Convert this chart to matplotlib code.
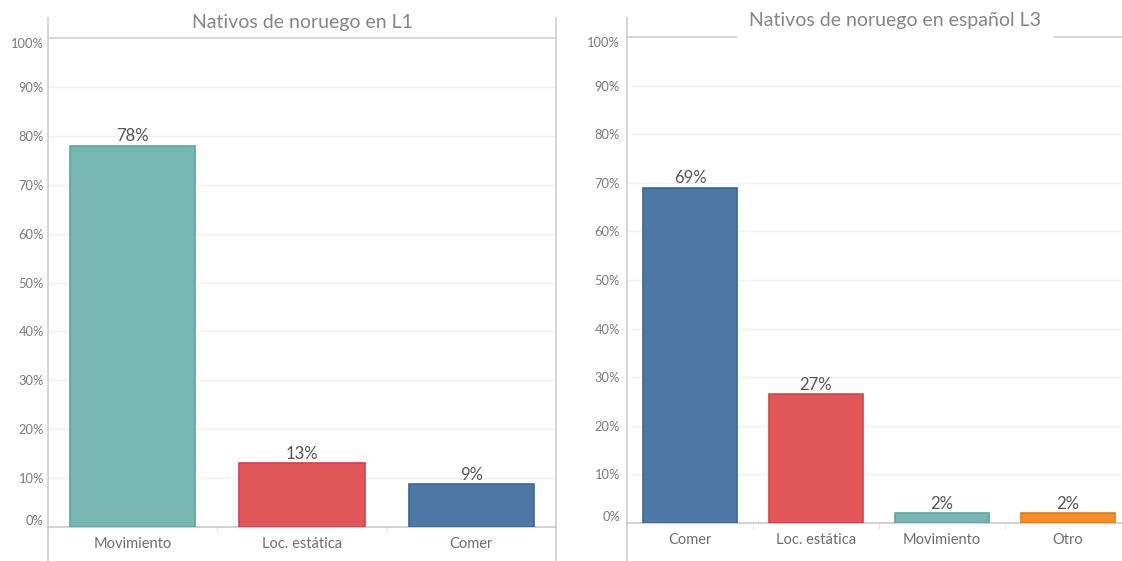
import numpy as np
import matplotlib
matplotlib.use("Agg")
import matplotlib.pyplot as plt
from matplotlib.lines import Line2D

plt.rcParams['font.family'] = ['Lato', 'DejaVu Sans']

# L1 panel
l1_title = "Nativos de noruego en L1"
l1_cats = ["Movimiento", "Loc. estática", "Comer"]
l1_vals = [0.78, 0.13, 0.087]
l1_labels = ["78%", "13%", "9%"]
l1_colors = ["#76B7B2", "#E15759", "#4E79A7"]

# L3 panel
l3_title = "Nativos de noruego en español L3"
l3_cats = ["Comer", "Loc. estática", "Movimiento", "Otro"]
l3_vals = [0.69, 0.265, 0.02, 0.02]
l3_labels = ["69%", "27%", "2%", "2%"]
l3_colors = ["#4E79A7", "#E15759", "#76B7B2", "#F28E2B"]

yticks = np.arange(0, 1.01, 0.1)
ytick_labels = [f"{int(round(t * 100))}%" for t in yticks]

edge = {"#76B7B2": "#5fa39e", "#E15759": "#cf4446", "#4E79A7": "#3b6694",
        "#F28E2B": "#e07a16"}

W, H = 1122, 561
fig = plt.figure(figsize=(W / 100, H / 100), dpi=100)
fig.patch.set_facecolor("white")


def panel(rect, cats, vals, labels, colors, title, ypad, right_border,
          top_y, bottom_y, title_gap):
    ax = fig.add_axes(rect)
    x = np.arange(len(cats))
    ax.bar(x, vals, width=0.74, color=colors,
           edgecolor=[edge[c] for c in colors], linewidth=1.2, zorder=3)
    for xi, v, lab in zip(x, vals, labels):
        ax.annotate(lab, (xi, v), xytext=(0, 1), textcoords="offset points",
                    ha="center", va="bottom", fontsize=12, color="#555555")
    ax.set_xlim(-0.5, len(cats) - 0.5)
    ax.set_ylim(0, 1)
    ax.set_yticks(yticks)
    ax.set_yticklabels(ytick_labels)
    ax.set_xticks(x)
    ax.set_xticklabels(cats)
    ax.set_xticks(np.arange(len(cats) + 1) - 0.5, minor=True)
    ax.tick_params(axis="x", which="major", length=0, pad=7, labelsize=10.5,
                   labelcolor="#6e6e6e")
    ax.tick_params(axis="x", which="minor", length=4, width=0.8,
                   color="#e6e6e6")
    ax.tick_params(axis="y", length=0, pad=ypad, labelsize=9.3,
                   labelcolor="#7a7a7a")
    tl = ax.get_yticklabels()
    tl[0].set_verticalalignment("bottom")
    tl[-1].set_verticalalignment("top")
    for s in ax.spines.values():
        s.set_visible(False)
    ax.spines["bottom"].set_visible(True)
    ax.spines["bottom"].set_color("#c8c8c8")
    ax.spines["bottom"].set_linewidth(1.2)
    for t in yticks[1:-1]:
        ax.axhline(t, color="#f0f0f0", lw=1, zorder=0)
    # top rule
    ax.axhline(1.0, color="#cfcfcf", lw=1.2, zorder=1, clip_on=False)
    # left axis line running past the plot area
    ax.add_line(Line2D([0, 0], [bottom_y, top_y], transform=ax.transAxes,
                       color="#cfcfcf", lw=1.2, clip_on=False))
    if right_border:
        ax.add_line(Line2D([1, 1], [bottom_y, top_y], transform=ax.transAxes,
                           color="#cfcfcf", lw=1.2, clip_on=False))
    t = ax.set_title(title, fontsize=14, color="#858585", pad=title_gap)
    return ax, t


ax1, t1 = panel([48 / W, 34 / H, 508 / W, 489 / H], l1_cats, l1_vals,
                l1_labels, l1_colors, l1_title, 3, True, 1.041, -0.075, 7)
ax2, t2 = panel([627 / W, 38 / H, 504 / W, 486 / H], l3_cats, l3_vals,
                l3_labels, l3_colors, l3_title, 5, False, 1.04, -0.085, 8)
t2.set_bbox(dict(facecolor="white", edgecolor="none", pad=9))
t2.set_position((0.532, 1.0))
t2.set_zorder(5)

fig.savefig("out.png", dpi=100)
